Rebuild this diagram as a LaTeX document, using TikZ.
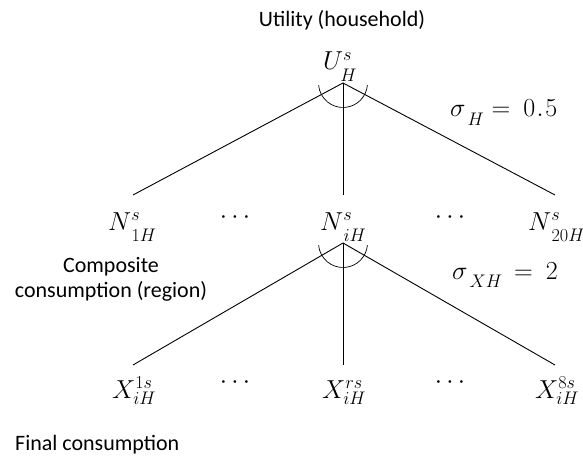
\RequirePackage{fix-cm}
\documentclass[tikz,border=0pt]{standalone}
\usepackage{fontspec}
\newfontfamily\lblfont{Carlito}
\newcommand\lsb[1]{_{\lower5pt\hbox{$\scriptstyle #1$}}}
\begin{document}
\begin{tikzpicture}[x=1pt,y=-1pt,
  mathlbl/.style={inner sep=0pt,anchor=base west,font=\fontsize{26}{30}\selectfont},
  dotlbl/.style={inner sep=0pt,anchor=center,font=\fontsize{26}{30}\selectfont},
  txt/.style={inner sep=0pt,font=\lblfont\fontsize{22}{25}\selectfont},
  branch/.style={line width=0.9pt},
  nestarc/.style={line width=0.7pt}]
\useasboundingbox (0,0) rectangle (583,462);
% top level
\node[txt,anchor=base] (util) at (342,27) {Utility (household)};
\node[mathlbl] (U) at (323,70) {$U^s\lsb{H}$};
\coordinate (a1) at (343,83);
\coordinate (e11) at (133,195);
\coordinate (e12) at (343,195);
\coordinate (e13) at (555,195);
\draw[branch] (e11) -- (a1) -- (e13);
\draw[branch] (a1) -- (e12);
\draw[nestarc] ([shift={(185:24.5pt)}]a1) arc[start angle=185,end angle=355,radius=24.5pt];
\node[mathlbl] (sH) at (450,117) {$\sigma\lsb{\,H}=\mkern4mu 0\kern1.5pt.\kern1.5pt5$};
% middle row
\node[mathlbl] (N1) at (108,230) {$N^s\lsb{\,1H}$};
\node[dotlbl] (d1) at (235,218) {$\cdots$};
\node[mathlbl] (Ni) at (320,230) {$N^s\lsb{\,iH}$};
\node[dotlbl] (d2) at (450,218) {$\cdots$};
\node[mathlbl] (N20) at (528,230) {$N^s\lsb{\,20H}$};
\node[txt,anchor=base,align=center] (comp) at (111,297) {Composite\\consumption (region)};
\coordinate (a2) at (343,243);
\coordinate (e21) at (133,365);
\coordinate (e22) at (343,365);
\coordinate (e23) at (555,365);
\draw[branch] (e21) -- (a2) -- (e23);
\draw[branch] (a2) -- (e22);
\draw[nestarc] ([shift={(185:24.5pt)}]a2) arc[start angle=185,end angle=355,radius=24.5pt];
\node[mathlbl] (sXH) at (452,279) {$\sigma\lsb{\,XH}\mkern3mu=\mkern4mu 2$};
% bottom row
\node[mathlbl] (X1) at (112,398) {$X^{1s}_{iH}$};
\node[dotlbl] (d3) at (235,383) {$\cdots$};
\node[mathlbl] (Xr) at (322,398) {$X^{rs}_{iH}$};
\node[dotlbl] (d4) at (450,383) {$\cdots$};
\node[mathlbl] (X8) at (535,398) {$X^{8s}_{iH}$};
\node[txt,anchor=base west] (final) at (15,450) {Final consumption};
\end{tikzpicture}
\end{document}
